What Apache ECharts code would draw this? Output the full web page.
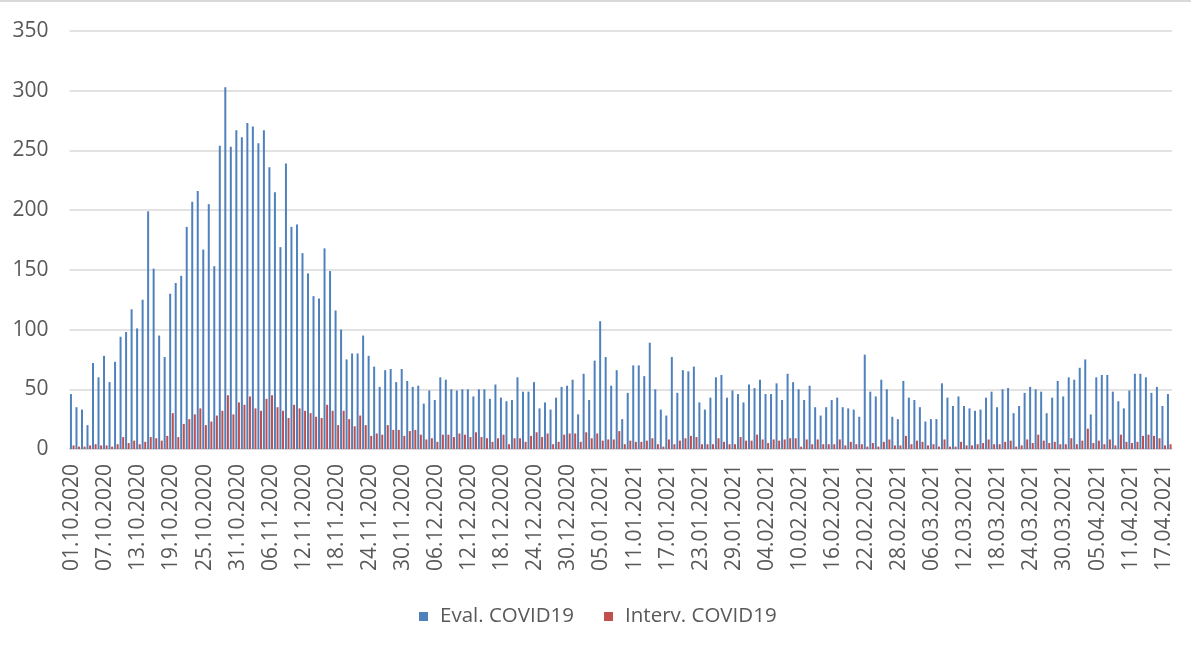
<!DOCTYPE html>
<html>
<head>
<meta charset="utf-8">
<title>COVID19</title>
<script src="https://cdn.jsdelivr.net/npm/echarts@6/dist/echarts.min.js"></script>
<style>
  html, body { margin: 0; padding: 0; background: #ffffff; }
  #chart { width: 1191px; height: 649px; }
</style>
</head>
<body>
<div id="chart"></div>
<script>
// Daily counts, 01.10.2020 – 18.04.2021
const startDate = new Date(2020, 9, 1);
const dayCount = 200;

const evalCovid = [
  46, 35, 33, 20, 72, 60, 78, 56, 73, 94,
  98, 117, 101, 125, 199, 151, 95, 77, 130, 139,
  145, 186, 207, 216, 167, 205, 153, 254, 303, 253,
  267, 261, 273, 270, 256, 267, 236, 215, 169, 239,
  186, 188, 164, 147, 128, 126, 168, 149, 116, 100,
  75, 80, 80, 95, 78, 69, 52, 66, 67, 56,
  67, 57, 52, 53, 38, 49, 41, 60, 58, 50,
  49, 50, 50, 44, 50, 50, 42, 54, 43, 40,
  41, 60, 48, 48, 56, 34, 39, 33, 43, 52,
  53, 58, 29, 63, 41, 74, 107, 77, 53, 66,
  25, 47, 70, 70, 61, 89, 50, 33, 28, 77,
  47, 66, 65, 69, 39, 33, 43, 60, 62, 43,
  49, 46, 39, 54, 51, 58, 46, 46, 55, 41,
  63, 56, 50, 41, 53, 35, 28, 35, 41, 43,
  35, 34, 33, 27, 79, 48, 44, 58, 50, 27,
  25, 57, 43, 41, 35, 23, 25, 25, 55, 43,
  36, 44, 36, 34, 32, 33, 43, 48, 35, 50,
  51, 30, 36, 47, 52, 50, 48, 30, 43, 57,
  44, 60, 58, 68, 75, 29, 60, 62, 62, 48,
  40, 34, 49, 63, 63, 60, 47, 52, 36, 46
];

const intervCovid = [
  3, 2, 2, 3, 4, 3, 3, 2, 4, 10,
  5, 7, 4, 6, 10, 9, 7, 11, 30, 10,
  21, 25, 29, 34, 20, 23, 28, 32, 45, 29,
  39, 37, 44, 34, 32, 42, 45, 35, 32, 26,
  37, 34, 32, 30, 27, 26, 37, 32, 20, 32,
  25, 19, 28, 20, 11, 13, 12, 20, 16, 16,
  11, 15, 16, 12, 8, 9, 6, 12, 12, 10,
  13, 12, 10, 14, 10, 9, 6, 9, 12, 4,
  9, 9, 6, 11, 14, 10, 13, 4, 6, 12,
  13, 13, 6, 14, 9, 13, 7, 8, 8, 15,
  4, 7, 6, 6, 7, 9, 4, 2, 8, 4,
  7, 9, 11, 10, 4, 4, 4, 9, 6, 4,
  4, 10, 7, 7, 12, 8, 5, 8, 7, 8,
  9, 9, 2, 8, 4, 8, 4, 4, 4, 8,
  3, 6, 4, 4, 2, 5, 2, 6, 8, 3,
  3, 11, 4, 7, 6, 3, 4, 2, 8, 2,
  2, 6, 3, 3, 4, 5, 8, 4, 4, 6,
  7, 2, 3, 8, 5, 12, 7, 5, 6, 4,
  4, 9, 4, 7, 17, 5, 7, 4, 8, 3,
  12, 6, 5, 6, 11, 12, 11, 9, 3, 4
];

const yTicks = { min: 0, max: 350, interval: 50 };
const seriesNames = ['Eval. COVID19', 'Interv. COVID19'];

function pad(n) { return n < 10 ? '0' + n : '' + n; }
const categories = [];
for (let i = 0; i < dayCount; i++) {
  const d = new Date(startDate.getFullYear(), startDate.getMonth(), startDate.getDate() + i);
  categories.push(pad(d.getDate()) + '.' + pad(d.getMonth() + 1) + '.' + d.getFullYear());
}

const textColor = '#595959';
const gridColor = '#d9d9d9';
const fontFamily = '"Open Sans", "DejaVu Sans", sans-serif';

const chart = echarts.init(document.getElementById('chart'), null, { renderer: 'canvas' });
chart.setOption({
  animation: false,
  backgroundColor: '#ffffff',
  textStyle: { fontFamily: fontFamily },
  graphic: [{
    type: 'line',
    shape: { x1: 0, y1: 1, x2: 1191, y2: 1 },
    style: { stroke: gridColor, lineWidth: 2 }
  }],
  grid: { left: 69.5, right: 19, top: 31, bottom: 200, containLabel: false },
  legend: {
    data: seriesNames,
    left: 414,
    top: 601,
    icon: 'rect',
    itemWidth: 9,
    itemHeight: 9,
    itemGap: 30,
    textStyle: { color: textColor, fontSize: 20.5, fontFamily: fontFamily, padding: [0, 0, 0, 7] }
  },
  xAxis: {
    type: 'category',
    data: categories,
    boundaryGap: true,
    axisLine: { show: true, lineStyle: { color: gridColor, width: 1.5 } },
    axisTick: { show: false },
    axisLabel: {
      interval: 5,
      rotate: 90,
      color: textColor,
      fontSize: 21,
      fontFamily: fontFamily,
      margin: 15
    },
    splitLine: { show: false }
  },
  yAxis: {
    type: 'value',
    min: yTicks.min,
    max: yTicks.max,
    interval: yTicks.interval,
    axisLine: { show: false },
    axisTick: { show: false },
    axisLabel: { color: textColor, fontSize: 21, fontFamily: fontFamily, margin: 21 },
    splitLine: { show: true, lineStyle: { color: gridColor, width: 1.5 } }
  },
  series: [
    {
      name: seriesNames[0],
      type: 'bar',
      data: evalCovid,
      barWidth: 2,
      barGap: '30%',
      itemStyle: { color: '#4F81BD' }
    },
    {
      name: seriesNames[1],
      type: 'bar',
      data: intervCovid,
      barWidth: 2,
      barGap: '30%',
      itemStyle: { color: '#C0504D' }
    }
  ]
});
</script>
</body>
</html>
